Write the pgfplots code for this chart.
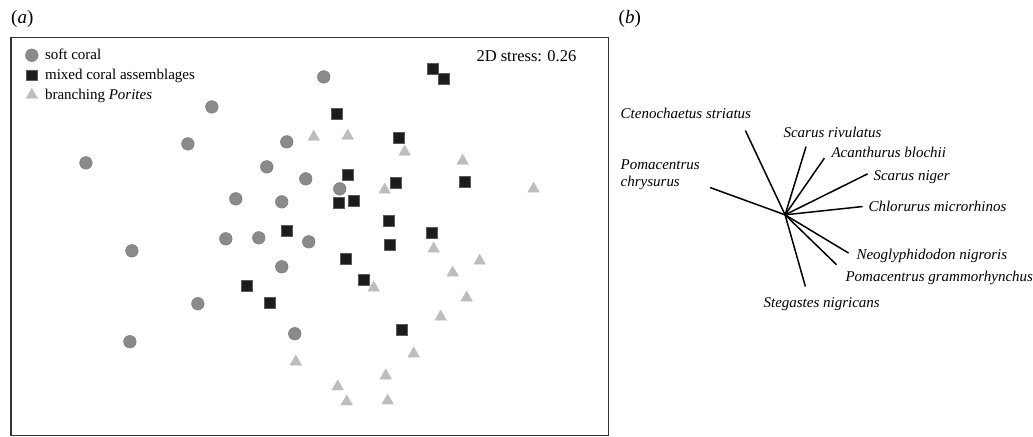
\documentclass[border=0pt]{standalone}
\usepackage{fontspec}
\setmainfont{Liberation Serif}
\usepackage{pgfplots}
\pgfplotsset{compat=1.18}
\definecolor{softc}{HTML}{8A8A8A}
\definecolor{softe}{HTML}{7A7A7A}
\definecolor{mixc}{HTML}{1C1C1C}
\definecolor{mixe}{HTML}{5A5A5A}
\definecolor{brc}{HTML}{BDBDBD}
\newcommand{\lab}{\fontsize{15bp}{18bp}\selectfont}
\begin{document}
\begin{tikzpicture}
\path (0bp,0bp) rectangle (1033bp,437bp);
\begin{axis}[
  at={(11bp,1bp)}, anchor=south west,
  width=598bp, height=398.5bp, scale only axis,
  xmin=11, xmax=609, ymin=37.5, ymax=436, y dir=reverse,
  xtick=\empty, ytick=\empty,
  axis line style={line width=1.6bp, color=black!80},
  clip=false,
  legend style={at={(0.024,0.976)}, anchor=north west, draw=none, fill=none,
    font=\lab, row sep=4bp, column sep=5bp, inner sep=0pt},
  legend cell align=left,
  legend image code/.code={\draw[#1] plot coordinates {(0bp,0bp)};},
]
\addplot[only marks, mark=*, mark size=6.3bp, mark options={fill=softc, draw=softe, line width=0.5bp}] coordinates {
(324,77) (212,107) (188,144) (86,163) (287,142) (267,167) (306,179) (236,199) (282,202)
(340,189) (226,239) (259,238) (309,242) (132,251) (282,267) (198,304) (295,334) (130,342)};
\addlegendentry{soft coral}
\addplot[only marks, mark=square*, mark size=5.3bp, mark options={fill=mixc, draw=mixe, line width=0.5bp}] coordinates {
(433,69) (444,79) (337,114) (399,138) (348,175) (396,183) (465,182) (339,203) (354,201)
(287,231) (389,221) (432,233) (390,245) (346,259) (364,280) (247,286) (270,303) (402,330)};
\addlegendentry{mixed coral assemblages}
\addplot[only marks, mark=triangle*, mark size=6.8bp, mark options={fill=brc, draw=brc, line width=0.3bp}] coordinates {
(314,137) (348,136) (405,152) (463,161) (385,190) (534,189) (434,249) (480,261) (453,273)
(467,298) (374,288) (441,317) (414,354) (296,362) (386,376) (338,387) (347,402) (388,401)};
\addlegendentry{branching \textit{Porites}}
\node[anchor=east, font=\fontsize{16.5bp}{19bp}\selectfont, inner sep=0pt] at (axis cs:577,56) {2D stress: 0.26};
\node[anchor=west, font=\fontsize{19bp}{22bp}\selectfont, inner sep=0pt] at (axis cs:11,19) {(\textit{a})};
\end{axis}
\begin{axis}[
  at={(610bp,0bp)}, anchor=south west,
  width=423bp, height=437bp, scale only axis,
  xmin=610, xmax=1033, ymin=0, ymax=437, y dir=reverse,
  axis lines=none, clip=false,
]
\addplot[black, line width=1.5bp] coordinates {(785.7,215) (746,130.7)};
\addplot[black, line width=1.5bp] coordinates {(785.7,215) (806.7,146.7)};
\addplot[black, line width=1.5bp] coordinates {(785.7,215) (825,158.3)};
\addplot[black, line width=1.5bp] coordinates {(785.7,215) (868.3,174)};
\addplot[black, line width=1.5bp] coordinates {(785.7,215) (863.3,206.7)};
\addplot[black, line width=1.5bp] coordinates {(785.7,215) (710.7,187.7)};
\addplot[black, line width=1.5bp] coordinates {(785.7,215) (849.3,253.3)};
\addplot[black, line width=1.5bp] coordinates {(785.7,215) (837.3,265)};
\addplot[black, line width=1.5bp] coordinates {(785.7,215) (806,286.7)};
\begin{scope}[every node/.style={anchor=west, font=\lab\itshape, inner sep=0pt}]
\node at (axis cs:621,113) {Ctenochaetus striatus};
\node at (axis cs:784,132) {Scarus rivulatus};
\node at (axis cs:832,153) {Acanthurus blochii};
\node at (axis cs:874,177) {Scarus niger};
\node at (axis cs:869,207) {Chlorurus microrhinos};
\node at (axis cs:621,165) {Pomacentrus};
\node at (axis cs:621,183) {chrysurus};
\node at (axis cs:857,256) {Neoglyphidodon nigroris};
\node at (axis cs:846,278) {Pomacentrus grammorhynchus};
\node at (axis cs:764,304) {Stegastes nigricans};
\end{scope}
\node[anchor=west, font=\fontsize{19bp}{22bp}\selectfont, inner sep=0pt] at (axis cs:619,19) {(\textit{b})};
\end{axis}
\end{tikzpicture}
\end{document}
